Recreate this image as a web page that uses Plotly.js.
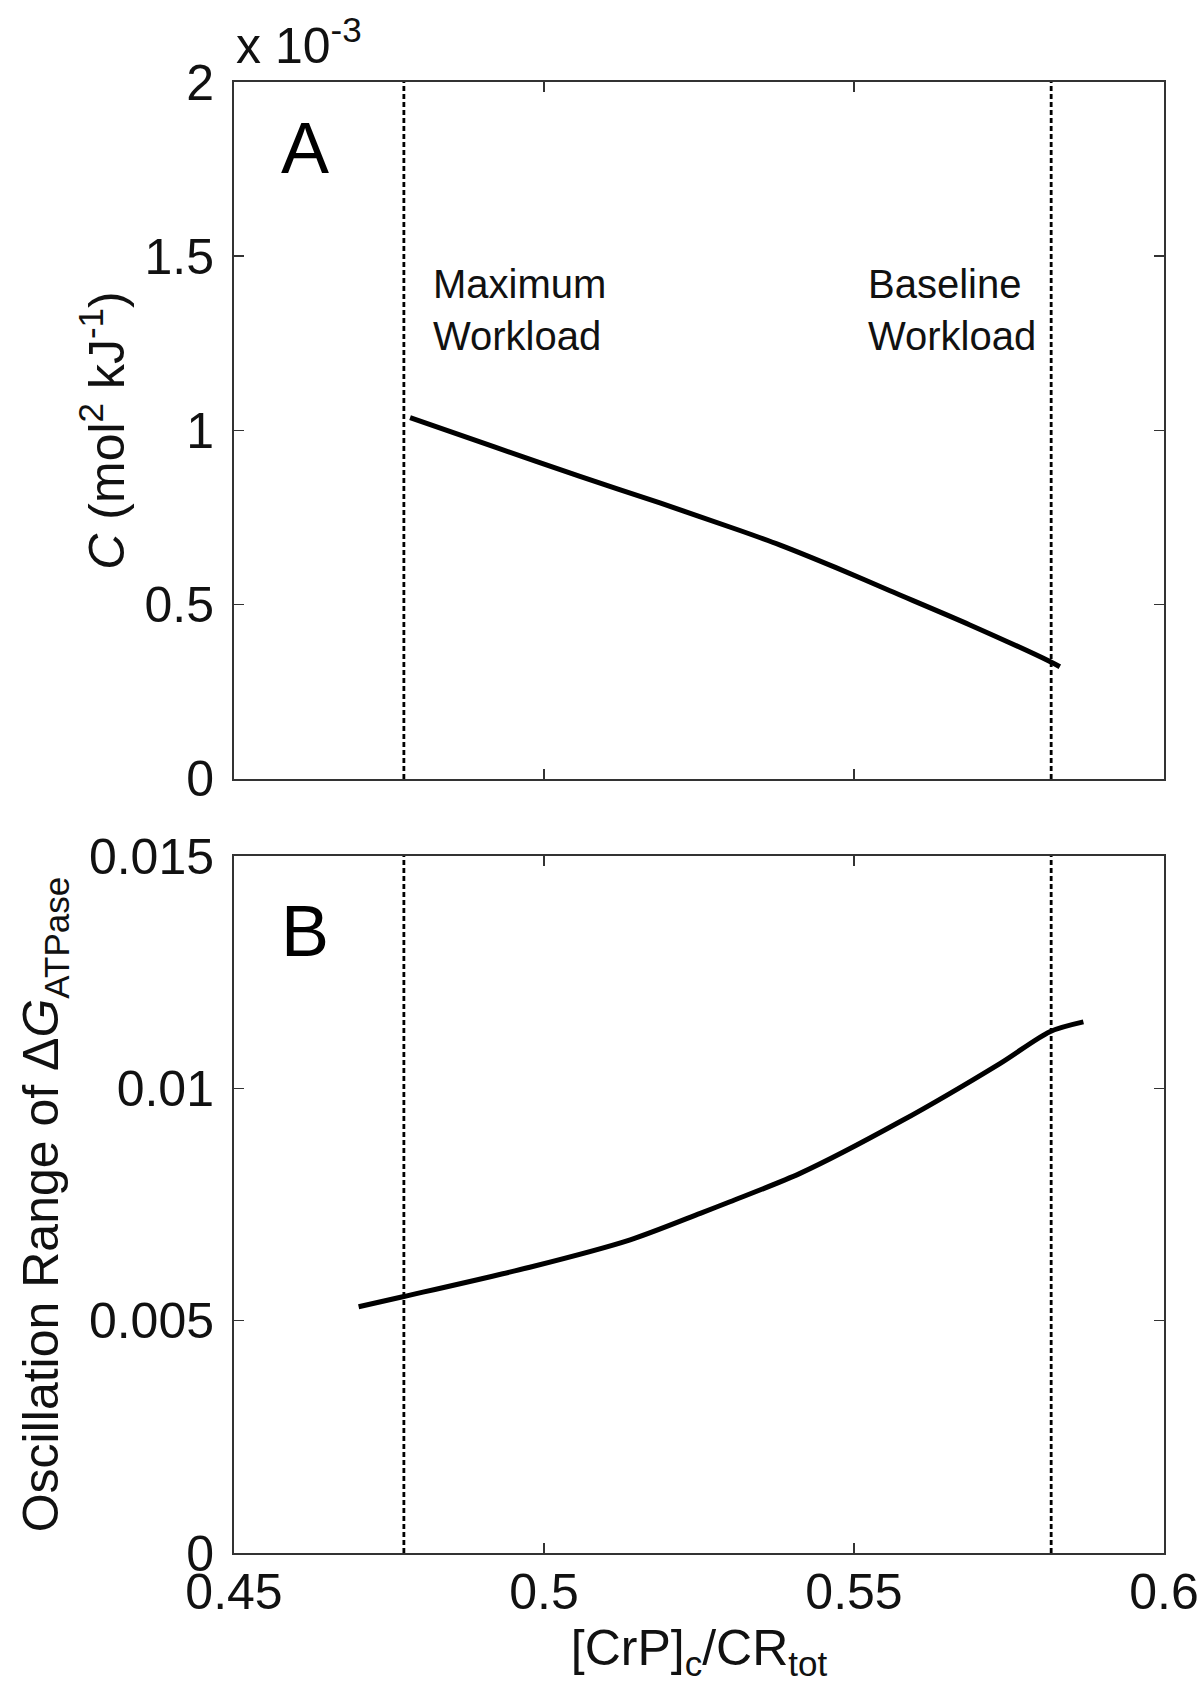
<!DOCTYPE html>
<html>
<head>
<meta charset="utf-8">
<script src="https://cdn.plot.ly/plotly-3.0.1.min.js"></script>
<style>html,body{margin:0;padding:0;background:#fff;}#chart{width:1200px;height:1705px;}</style>
</head>
<body>
<div id="chart"></div>
<script>
// Panel A: capacitance C (in units of 1e-3 mol^2 kJ^-1) vs [CrP]c/CRtot
const crpA = [0.4784, 0.4920, 0.5058, 0.5187, 0.5316, 0.5381, 0.5470, 0.5558, 0.5687, 0.5816, 0.5832];
const capA = [1.037, 0.953, 0.868, 0.792, 0.713, 0.671, 0.607, 0.540, 0.442, 0.337, 0.322];

// Panel B: oscillation range of dG_ATPase vs [CrP]c/CRtot
const crpB = [0.4701, 0.4774, 0.4977, 0.5139, 0.5252, 0.5300, 0.5413, 0.5574, 0.5736, 0.5816, 0.5870];
const oscB = [0.00530, 0.00552, 0.00615, 0.00674, 0.00731, 0.00756, 0.00817, 0.00928, 0.01054, 0.01122, 0.01143];

// Workload markers (vertical dashed lines)
const workloadX = [0.4774, 0.5818];
const workloadLabels = ["Maximum<br>Workload", "Baseline<br>Workload"];

// Ticks
const xTicks = [0.45, 0.5, 0.55, 0.6];
const xTickText = ["0.45", "0.5", "0.55", "0.6"];
const yTicksA = [0, 0.5, 1, 1.5, 2];
const yTickTextA = ["0", "0.5", "1", "1.5", "2"];
const yTicksB = [0, 0.005, 0.01, 0.015];
const yTickTextB = ["0", "0.005", "0.01", "0.015"];

const FONT = "Liberation Sans, Arial, Helvetica, sans-serif";
const AX = "#333333";

const traces = [
  {x: crpA, y: capA, xaxis: "x", yaxis: "y", mode: "lines",
   line: {color: "#000", width: 5, shape: "spline", smoothing: 0.8}, hoverinfo: "skip"},
  {x: crpB, y: oscB, xaxis: "x2", yaxis: "y2", mode: "lines",
   line: {color: "#000", width: 5, shape: "spline", smoothing: 0.8}, hoverinfo: "skip"}
];

function axisBase() {
  return {
    showline: true, linecolor: AX, linewidth: 2, mirror: "ticks",
    ticks: "inside", ticklen: 10, tickwidth: 1.5, tickcolor: AX,
    showgrid: false, zeroline: false,
    tickfont: {family: FONT, size: 50, color: "#111"}
  };
}

const shapes = [];
workloadX.forEach(v => {
  [["x", "y domain"], ["x2", "y2 domain"]].forEach(([xr, yr]) => {
    shapes.push({type: "line", xref: xr, yref: yr, x0: v, x1: v, y0: 0, y1: 1,
      line: {color: "#000", width: 2.8, dash: "5px,3px"}, layer: "below"});
  });
});

const annotations = [
  {text: "A", xref: "x domain", yref: "y domain", x: 0.076, y: 0.905,
   xanchor: "center", yanchor: "middle", showarrow: false,
   font: {family: FONT, size: 72, color: "#000"}},
  {text: "B", xref: "x2 domain", yref: "y2 domain", x: 0.076, y: 0.893,
   xanchor: "center", yanchor: "middle", showarrow: false,
   font: {family: FONT, size: 72, color: "#000"}},
  {text: workloadLabels[0], xref: "x domain", yref: "y domain", x: 0.212, y: 0.745,
   xanchor: "left", yanchor: "top", align: "left", showarrow: false,
   font: {family: FONT, size: 40, color: "#111"}},
  {text: workloadLabels[1], xref: "x domain", yref: "y domain", x: 0.680, y: 0.745,
   xanchor: "left", yanchor: "top", align: "left", showarrow: false,
   font: {family: FONT, size: 40, color: "#111"}},
  {text: "x 10<sup>-3</sup>", xref: "paper", yref: "paper", x: 0, y: 1,
   xanchor: "left", yanchor: "bottom", yshift: 6, showarrow: false,
   font: {family: FONT, size: 50, color: "#111"}}
];

const layout = {
  width: 1200, height: 1705,
  margin: {l: 234, r: 36, t: 82, b: 152},
  paper_bgcolor: "#fff", plot_bgcolor: "#fff",
  showlegend: false,
  font: {family: FONT, color: "#111"},
  xaxis: Object.assign(axisBase(), {
    domain: [0, 1], range: [0.45, 0.6], anchor: "y",
    tickvals: xTicks, ticktext: xTickText, showticklabels: false
  }),
  yaxis: Object.assign(axisBase(), {
    domain: [0.5262, 1], range: [0, 2], anchor: "x",
    tickvals: yTicksA, ticktext: yTickTextA, ticklabelstandoff: 8,
    title: {text: "<i>C</i> (mol<sup>2</sup> kJ<sup>-1</sup>)", standoff: 4,
            font: {family: FONT, size: 50, color: "#111"}}
  }),
  xaxis2: Object.assign(axisBase(), {
    domain: [0, 1], range: [0.45, 0.6], anchor: "y2",
    tickvals: xTicks, ticktext: xTickText, ticklabelstandoff: -6,
    title: {text: "[CrP]<sub>c</sub>/CR<sub>tot</sub>", standoff: 6,
            font: {family: FONT, size: 50, color: "#111"}}
  }),
  yaxis2: Object.assign(axisBase(), {
    domain: [0, 0.4738], range: [0, 0.015], anchor: "x2",
    tickvals: yTicksB, ticktext: yTickTextB, ticklabelstandoff: 8,
    title: {text: "Oscillation Range of Δ<i>G</i><sub>ATPase</sub>", standoff: 14,
            font: {family: FONT, size: 50, color: "#111"}}
  }),
  shapes: shapes,
  annotations: annotations
};

Plotly.newPlot("chart", traces, layout, {staticPlot: true, displayModeBar: false});
</script>
</body>
</html>
